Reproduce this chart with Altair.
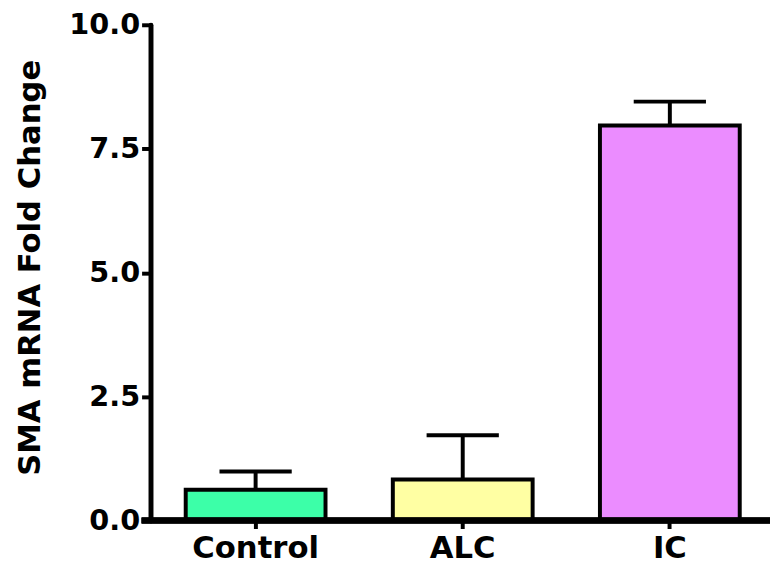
import altair as alt
import pandas as pd

groups = ["Control", "ALC", "IC"]
means = [0.62, 0.83, 7.97]
sems = [0.37, 0.89, 0.48]
colors = ["#3CFFA8", "#FFFFA3", "#EB8CFF"]
y_ticks = [0.0, 2.5, 5.0, 7.5, 10.0]

df = pd.DataFrame({
    "group": groups,
    "mean": means,
    "upper": [m + s for m, s in zip(means, sems)],
    "color": colors,
})

W, H = 626, 501
FONT = "DejaVu Sans"

x_scale = alt.Scale(range=[0, 631], paddingInner=0.325, paddingOuter=0.17)
y_scale = alt.Scale(domain=[0, 10], nice=False)

x_enc = alt.X(
    "group:N",
    sort=groups,
    scale=x_scale,
    axis=alt.Axis(
        title=None, labelAngle=0, labelFont=FONT, labelFontSize=31,
        labelFontWeight="bold", labelColor="black", labelPadding=5,
        tickSize=8, tickWidth=4, tickColor="black", domain=False,
    ),
)

base = alt.Chart(df)

bars = base.mark_bar(stroke="black", strokeWidth=4, opacity=1).encode(
    x=x_enc,
    y=alt.Y(
        "mean:Q",
        scale=y_scale,
        axis=alt.Axis(
            values=y_ticks, format=".1f", grid=False,
            title="SMA mRNA Fold Change", titleFont=FONT, titleFontSize=31,
            titleFontWeight="bold", titleColor="black", titleAngle=270,
            titleX=-112, titleY=245, titleBaseline="alphabetic", titleAlign="center",
            labelFont=FONT, labelFontSize=29, labelFontWeight="bold",
            labelColor="black", labelPadding=2,
            tickSize=9, tickWidth=4, tickColor="black",
            domainColor="black", domainWidth=5, domainCap="round",
        ),
    ),
    color=alt.Color("color:N", scale=None),
)

err = base.mark_rule(color="black", strokeWidth=4, opacity=1).encode(
    x=alt.X("group:N", sort=groups, scale=x_scale),
    y=alt.Y("mean:Q", scale=y_scale),
    y2="upper:Q",
)

caps = base.mark_tick(color="black", thickness=4, size=73, orient="horizontal", opacity=1).encode(
    x=alt.X("group:N", sort=groups, scale=x_scale),
    y=alt.Y("upper:Q", scale=y_scale),
)

xline = alt.Chart(df).mark_rule(color="black", strokeWidth=6).encode(
    x=alt.value(-9), x2=alt.value(W), y=alt.value(H)
)

chart = alt.layer(bars, err, caps, xline).properties(
    width=W, height=H,
    background="white",
    autosize=alt.AutoSizeParams(type="none"),
    padding={"left": 144, "top": 14, "right": 0, "bottom": 50},
).configure_view(strokeWidth=0, stroke="transparent").configure_axis(grid=False)

chart.save("out.html", embed_options={"renderer": "svg", "actions": False})
